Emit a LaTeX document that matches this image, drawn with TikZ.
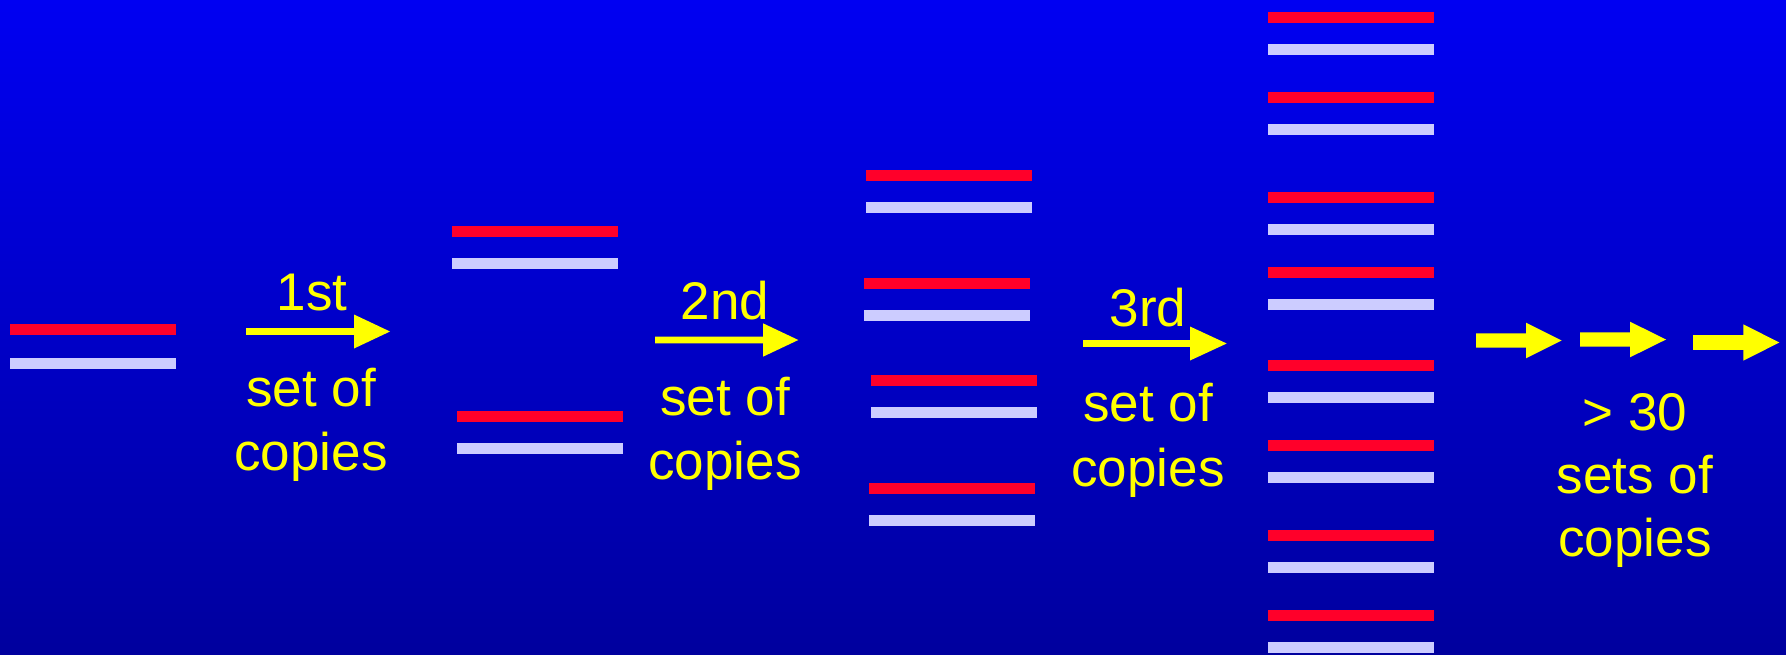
\documentclass[tikz,border=0pt]{standalone}
\usepackage{fontspec}
\setmainfont{Liberation Sans}
\definecolor{bgtop}{RGB}{0,0,242}
\definecolor{bgbot}{RGB}{0,0,158}
\definecolor{strandred}{RGB}{255,0,42}
\definecolor{strandpale}{RGB}{204,204,255}
\definecolor{arrowyellow}{RGB}{255,255,0}
% #1 left x, #2 right x, #3 red centre y, #4 gap to pale strand
\newcommand{\dnapair}[4]{%
  \fill[strandred] (#1,#3-5.5) rectangle (#2,#3+5.5);
  \fill[strandpale] (#1,#3+#4-5.5) rectangle (#2,#3+#4+5.5);}
% #1 start x, #2 head base x, #3 tip x, #4 centre y, #5 shaft half thickness, #6 head half height
\newcommand{\yelarrow}[6]{%
  \fill[arrowyellow] (#1,#4-#5) -- (#2,#4-#5) -- (#2,#4-#6) -- (#3,#4)
    -- (#2,#4+#6) -- (#2,#4+#5) -- (#1,#4+#5) -- cycle;}
\tikzset{lbl/.style={text=arrowyellow,font=\fontsize{26.5pt}{32pt}\selectfont,anchor=base,inner sep=0pt}}
\begin{document}
\begin{tikzpicture}[x=0.5pt,y=-0.5pt]
\shade[top color=bgtop,bottom color=bgbot] (0,0) rectangle (1786,654);
\useasboundingbox (0,0) rectangle (1786,654);
% column 1
\dnapair{10}{176}{329.5}{34}
% column 2
\dnapair{452}{618}{231.5}{32}
\dnapair{457}{623}{416.5}{32}
% column 3
\dnapair{866}{1032}{175.5}{32}
\dnapair{864}{1030}{283.5}{32}
\dnapair{871}{1037}{380.7}{32}
\dnapair{869}{1035}{488.5}{32}
% column 4
\foreach \yy in {17.5,97.5,197.5,272.5,365.5,445.5,535.5,615.5}{\dnapair{1268}{1434}{\yy}{32}}
% thin arrows
\yelarrow{246}{354}{390}{331.5}{3.3}{17}
\yelarrow{655}{763}{798.3}{340}{3.3}{16.7}
\yelarrow{1083}{1190}{1226.7}{343.5}{3.3}{17}
% thick arrows
\yelarrow{1476}{1526}{1561.7}{340.5}{7.2}{17.8}
\yelarrow{1580}{1630}{1666}{339.5}{7.2}{17.8}
\yelarrow{1693}{1743.3}{1779.3}{342.5}{7.3}{18.2}
% labels
\node[lbl] (t1a) at (312,310) {1st};
\node[lbl] (t1b) at (311,406) {set of};
\node[lbl] (t1c) at (311,470) {copies};
\node[lbl] (t2a) at (725,319.3) {2nd};
\node[lbl] (t2b) at (725,415) {set of};
\node[lbl] (t2c) at (725,479.5) {copies};
\node[lbl] (t3a) at (1148,326.7) {3rd};
\node[lbl] (t3b) at (1148,421.7) {set of};
\node[lbl] (t3c) at (1148,486.7) {copies};
\node[lbl] (t4a) at (1635,430) {> 30};
\node[lbl] (t4b) at (1635,493.3) {sets of};
\node[lbl] (t4c) at (1635,556.7) {copies};
\end{tikzpicture}
\end{document}
